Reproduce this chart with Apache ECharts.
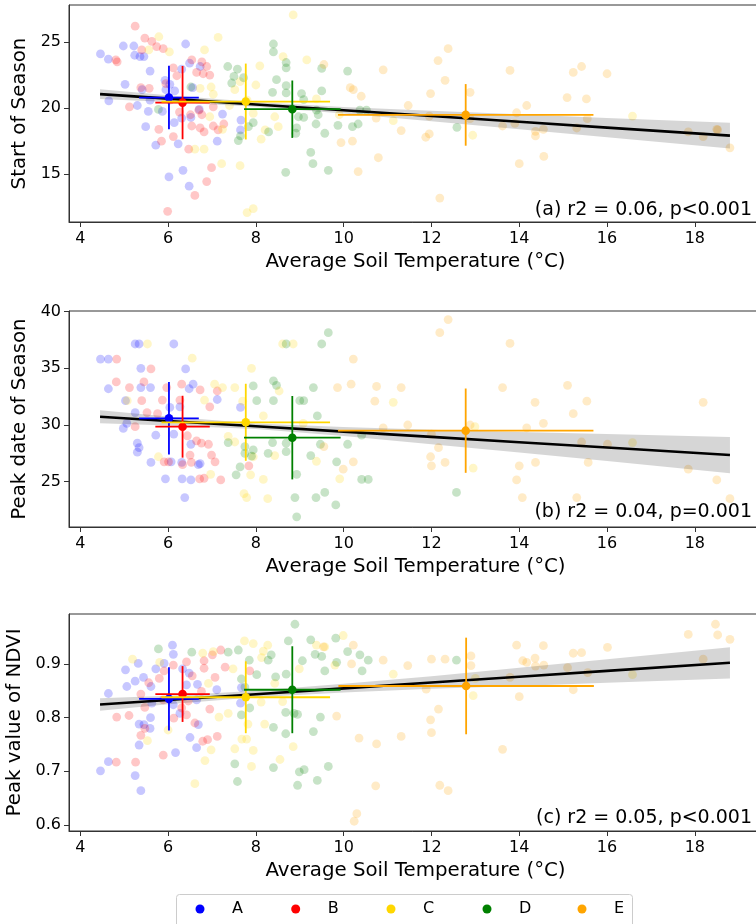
<!DOCTYPE html>
<html>
<head>
<meta charset="utf-8">
<script src="https://cdn.jsdelivr.net/npm/echarts@6/dist/echarts.min.js"></script>
<style>html,body{margin:0;padding:0;background:#fff}#chart{width:756px;height:924px}</style>
</head>
<body>
<div id="chart"></div>
<script>
// ---------- DATA ----------
const groups = ['A', 'B', 'C', 'D', 'E'];
const groupColors = ['#0000ff', '#ff0000', '#ffd700', '#008000', '#ffa500'];
const xTicks = [4, 6, 8, 10, 12, 14, 16, 18];
const yTicks1 = [15, 20, 25];
const yTicks2 = [25, 30, 35, 40];
const yTicks3 = [0.6, 0.7, 0.8, 0.9];
const xTitle = 'Average Soil Temperature (°C)';
const yTitles = ['Start of Season', 'Peak date of Season', 'Peak value of NDVI'];
const notes = ['(a) r2 = 0.06, p<0.001', '(b) r2 = 0.04, p=0.001', '(c) r2 = 0.05, p<0.001'];

// Panel (a): Start of Season
const sosA = [[4.46,24.1],[4.64,23.7],[4.98,24.7],[5.22,24.7],[5.24,24.0],[5.36,23.9],[5.45,23.9],[5.02,21.8],[4.65,20.55],[5.30,20.2],[5.59,22.8],[5.41,21.4],[5.59,20.6],[5.49,18.6],[5.72,17.2],[5.93,22.1],[5.95,21.4],[6.04,21.8],[6.15,21.3],[6.40,24.85],[6.31,22.95],[6.49,23.4],[6.56,21.55],[6.52,19.3],[6.23,17.3],[6.02,14.8],[6.34,15.3],[6.48,14.1],[6.73,23.15],[7.12,17.5],[7.24,19.55],[7.66,19.1],[7.65,18.35],[5.87,19.75],[5.55,19.75],[6.14,18.9],[6.31,19.25],[6.71,19.9]];
const sosB = [[5.25,26.2],[5.47,25.3],[5.63,25.05],[5.74,24.65],[5.89,24.5],[5.40,24.4],[4.81,23.65],[4.84,23.5],[5.12,20.1],[5.38,21.55],[5.57,21.5],[6.12,23.05],[6.20,22.45],[5.95,21.85],[6.54,23.65],[6.77,23.5],[6.88,23.15],[6.95,22.5],[6.65,22.7],[6.80,22.6],[6.12,17.85],[6.47,16.9],[6.54,18.65],[6.73,18.5],[6.82,18.2],[6.77,19.5],[7.03,18.65],[7.14,18.35],[7.27,18.8],[7.03,20.1],[6.70,19.85],[6.51,19.5],[5.85,17.5],[5.79,18.4],[5.99,12.2],[6.61,13.4],[6.88,14.45],[6.99,15.5],[6.26,19.7],[6.04,20.6]];
const sosC = [[5.79,25.4],[6.03,24.25],[5.56,24.4],[7.14,25.35],[6.83,24.4],[8.09,23.2],[8.62,23.9],[8.85,27.05],[6.73,21.5],[6.98,21.6],[7.03,21.05],[6.95,19.35],[7.24,18.4],[7.22,15.8],[6.82,16.9],[6.61,16.9],[7.64,15.65],[7.80,12.1],[7.94,12.4],[8.12,17.65],[7.94,19.6],[8.21,18.35],[8.0,21.75],[7.64,22.0],[7.8,20.6],[7.52,21.4],[8.43,19.35],[8.51,18.6],[9.16,23.65],[9.38,20.7],[9.9,19.5],[7.4,20.2],[11.13,19.05],[12.94,17.95],[16.58,19.4]];
const sosD = [[8.40,24.85],[8.40,24.25],[8.69,23.45],[8.69,23.05],[7.36,23.15],[7.58,22.95],[7.50,22.4],[7.72,22.3],[7.45,21.9],[8.47,22.15],[8.69,21.7],[8.38,21.2],[8.69,21.15],[9.04,21.1],[9.09,20.65],[9.50,23.0],[9.50,21.3],[9.38,19.85],[9.42,19.5],[8.97,19.35],[9.09,19.3],[10.09,22.8],[10.37,19.85],[10.52,19.85],[10.20,18.6],[10.33,18.8],[9.87,18.7],[9.37,18.8],[9.57,18.1],[8.93,18.5],[8.91,18.1],[8.29,18.2],[7.94,18.9],[7.83,18.6],[7.65,17.9],[7.60,17.55],[9.25,16.65],[9.30,15.8],[9.65,15.3],[8.68,15.15],[6.52,21.6],[5.78,19.9],[12.58,18.55]];
const sosE = [[10.90,22.9],[12.15,23.6],[12.38,24.5],[12.31,22.1],[11.98,21.1],[11.47,20.2],[10.74,19.25],[11.31,18.3],[11.87,17.8],[11.95,18.05],[10.79,16.25],[12.19,13.2],[12.88,21.2],[12.88,19.2],[13.79,22.85],[13.94,19.65],[14.17,20.2],[13.62,18.65],[13.9,18.85],[14.37,18.25],[14.37,17.9],[14.55,18.4],[14.0,15.8],[14.56,16.35],[15.09,20.8],[15.23,22.7],[15.42,23.15],[15.53,20.7],[15.55,19.2],[15.31,18.5],[16.0,22.6],[17.85,18.2],[18.19,17.85],[18.5,18.4],[18.52,18.35],[18.8,17.0],[9.55,23.3],[9.94,17.4],[10.15,21.55],[10.22,21.4],[10.4,20.9],[10.2,17.5],[10.33,15.2],[11.95,19.4]];

// Panel (b): Peak date of Season
const pdsA = [[4.46,35.82],[4.64,35.82],[4.64,33.2],[5.25,37.15],[5.34,37.15],[6.13,37.15],[5.38,35.0],[5.38,33.3],[5.6,33.3],[6.4,34.95],[5.03,32.15],[5.25,31.1],[5.06,30.15],[4.98,29.7],[5.3,28.4],[5.34,28.0],[5.3,27.6],[5.61,26.7],[5.94,25.25],[6.07,26.75],[6.13,29.2],[5.72,29.1],[6.32,25.25],[6.52,25.15],[6.38,23.6],[6.52,28.3],[6.57,33.6],[6.48,33.2],[6.73,26.6],[7.12,32.25],[7.65,31.55],[6.69,26.5],[6.31,26.7],[6.27,31.6],[6.04,31.55]];
const pdsB = [[4.83,35.82],[4.82,33.8],[5.12,33.3],[5.45,33.8],[5.61,34.95],[5.4,32.15],[5.76,31.0],[5.87,32.2],[5.97,33.3],[6.27,32.2],[6.31,33.6],[6.73,33.1],[6.95,31.6],[7.12,33.0],[6.65,28.6],[6.76,28.4],[6.92,28.3],[6.44,29.05],[5.91,26.75],[6.01,26.75],[6.33,26.5],[6.5,27.35],[6.53,26.7],[6.99,27.35],[7.07,26.75],[7.2,25.15],[6.72,25.25],[6.82,25.3],[7.84,26.4],[5.25,29.85],[5.52,31.1]];
const pdsC = [[5.53,37.15],[6.55,35.9],[5.07,32.15],[6.83,32.2],[7.06,33.6],[7.24,33.3],[7.52,33.3],[7.9,35.0],[7.7,32.1],[8.17,30.8],[7.37,29.0],[7.52,28.5],[6.97,25.65],[7.88,25.6],[8.17,25.2],[7.73,23.95],[7.79,23.6],[8.27,23.5],[8.61,37.15],[8.85,37.15],[8.53,33.0],[8.43,27.3],[9.38,26.8],[9.91,25.25],[9.08,30.15],[7.94,27.2],[5.78,27.2],[11.13,32.0],[12.95,26.2],[16.58,28.45],[12.99,29.85]];
const pdsD = [[8.69,37.15],[9.5,37.15],[9.65,38.15],[7.94,33.45],[8.4,33.9],[8.47,33.5],[9.31,33.3],[8.02,32.15],[8.4,32.15],[9.0,32.15],[9.09,32.15],[9.4,30.8],[7.37,28.45],[7.75,28.1],[7.75,27.5],[7.94,27.8],[7.9,27.25],[8.28,27.5],[8.38,28.45],[8.69,28.4],[8.69,27.65],[8.93,25.65],[8.89,23.6],[8.93,21.9],[9.37,23.6],[9.57,24.05],[9.82,22.95],[10.09,28.3],[10.41,25.2],[10.56,25.2],[9.25,27.3],[9.47,28.3],[7.55,25.6],[7.64,26.3],[9.84,26.75],[10.41,29.1],[12.57,24.05]];
const pdsE = [[10.22,35.82],[10.17,33.6],[9.86,33.3],[10.75,33.4],[10.71,32.1],[9.55,28.1],[10.22,26.75],[9.99,26.1],[12.38,39.3],[12.19,38.15],[13.79,37.2],[11.31,33.3],[13.62,33.3],[15.1,33.5],[14.36,32.0],[15.54,32.1],[15.23,31.0],[18.19,32.0],[11.46,30.0],[10.9,29.75],[12.0,29.2],[12.16,28.0],[11.98,27.2],[12.0,26.4],[12.31,26.7],[12.88,30.0],[14.17,29.75],[14.55,30.15],[15.42,28.5],[16.01,28.3],[14.0,26.4],[14.37,26.7],[13.94,25.15],[14.07,23.6],[15.31,23.6],[15.57,26.7],[17.85,26.1],[18.5,25.15],[18.8,23.5]];

// Panel (c): Peak value of NDVI
const ndviA = [[4.46,0.701],[4.64,0.718],[4.64,0.845],[5.03,0.889],[5.06,0.858],[5.25,0.868],[5.32,0.901],[5.44,0.875],[5.61,0.858],[5.72,0.891],[5.91,0.901],[6.1,0.935],[6.12,0.918],[6.33,0.891],[6.48,0.883],[6.42,0.861],[6.67,0.862],[6.65,0.833],[6.5,0.763],[6.65,0.744],[6.69,0.787],[6.17,0.735],[5.34,0.788],[5.45,0.787],[5.6,0.8],[5.59,0.78],[5.34,0.749],[5.25,0.692],[5.38,0.664],[7.11,0.852],[7.65,0.827],[7.67,0.856],[6.27,0.808],[6.12,0.824],[5.63,0.827]];
const ndviB = [[4.83,0.801],[4.82,0.717],[5.11,0.804],[5.26,0.717],[5.38,0.767],[5.47,0.819],[5.38,0.844],[5.56,0.865],[5.8,0.873],[5.91,0.887],[6.12,0.898],[6.42,0.904],[6.55,0.878],[6.82,0.906],[7.01,0.917],[6.82,0.892],[7.07,0.875],[7.3,0.894],[7.2,0.926],[6.95,0.816],[6.76,0.849],[6.61,0.79],[6.79,0.756],[6.9,0.759],[7.12,0.765],[5.89,0.73],[6.13,0.799],[6.42,0.805],[5.89,0.833],[6.31,0.818],[7.86,0.887],[5.47,0.78],[6.46,0.831]];
const ndviC = [[5.19,0.909],[5.81,0.903],[6.79,0.92],[7.03,0.923],[7.74,0.943],[7.94,0.938],[8.17,0.924],[8.27,0.935],[7.48,0.891],[8.13,0.912],[8.12,0.829],[7.82,0.788],[8.2,0.788],[7.16,0.801],[7.37,0.808],[7.52,0.742],[7.94,0.739],[7.68,0.76],[7.79,0.76],[6.98,0.74],[6.84,0.72],[5.53,0.757],[6.0,0.777],[6.61,0.677],[7.9,0.709],[8.55,0.722],[8.85,0.746],[8.43,0.864],[8.61,0.83],[8.99,0.891],[9.38,0.935],[9.57,0.932],[9.8,0.898],[6.92,0.864],[9.99,0.953],[11.13,0.881],[12.95,0.841],[16.58,0.88],[13.0,0.873]];
const ndviD = [[5.78,0.928],[6.54,0.922],[7.37,0.922],[7.6,0.926],[7.85,0.907],[8.02,0.88],[8.28,0.907],[8.35,0.917],[8.45,0.876],[8.69,0.881],[8.74,0.943],[8.89,0.974],[9.25,0.945],[9.06,0.906],[9.35,0.918],[9.5,0.914],[9.57,0.887],[9.82,0.948],[9.84,0.903],[10.09,0.923],[10.37,0.917],[10.42,0.887],[10.56,0.907],[7.67,0.872],[7.75,0.857],[7.86,0.818],[7.67,0.805],[8.87,0.808],[8.68,0.81],[8.4,0.782],[8.68,0.77],[8.95,0.806],[9.47,0.801],[9.31,0.774],[7.52,0.714],[7.58,0.681],[8.4,0.707],[8.99,0.699],[9.1,0.703],[8.95,0.674],[9.4,0.683],[9.65,0.709],[12.57,0.907]];
const ndviE = [[10.22,0.935],[10.18,0.9],[9.84,0.803],[10.35,0.762],[10.75,0.751],[10.73,0.673],[10.3,0.621],[10.24,0.607],[9.54,0.932],[10.9,0.907],[11.46,0.897],[12.0,0.909],[12.31,0.909],[12.9,0.915],[12.9,0.897],[11.88,0.853],[12.16,0.816],[11.98,0.796],[12.0,0.772],[11.31,0.765],[12.19,0.674],[12.38,0.664],[13.62,0.741],[13.94,0.935],[14.55,0.934],[14.08,0.906],[14.17,0.903],[14.36,0.911],[14.37,0.896],[14.56,0.898],[13.79,0.875],[14.0,0.839],[15.1,0.893],[15.23,0.92],[15.42,0.921],[15.56,0.884],[15.23,0.852],[16.01,0.931],[17.85,0.955],[18.19,0.909],[18.47,0.974],[18.52,0.954],[18.8,0.946]];

// Group means: [x, y, xStd, yStd] for A..E
const sosMeans  = [[6.02,20.8,0.68,2.4],[6.33,20.42,0.62,2.77],[7.77,20.5,1.92,2.87],[8.83,19.92,1.1,2.17],[12.78,19.49,2.91,2.33]];
const pdsMeans  = [[6.02,30.59,0.68,3.2],[6.33,29.85,0.62,2.73],[7.77,30.24,1.92,3.4],[8.83,28.88,1.1,3.68],[12.78,29.5,2.91,3.72]];
const ndviMeans = [[6.02,0.835,0.68,0.059],[6.33,0.844,0.62,0.052],[7.77,0.838,1.92,0.067],[8.83,0.852,1.1,0.081],[12.79,0.859,2.91,0.09]];

// Regression lines and confidence bands
const fitX = [4.45, 6, 8, 10, 12, 14, 16, 18.8];
const sosFit  = [21.06, 20.72, 20.28, 19.84, 19.41, 18.97, 18.53, 17.92];
const sosLo   = [20.70, 20.47, 20.10, 19.59, 19.01, 18.41, 17.80, 16.95];
const sosHi   = [21.42, 20.97, 20.46, 20.09, 19.81, 19.53, 19.26, 18.89];
const pdsFit  = [30.73, 30.36, 29.89, 29.42, 28.95, 28.48, 28.01, 27.35];
const pdsLo   = [30.15, 29.96, 29.64, 29.02, 28.31, 27.57, 26.82, 25.75];
const pdsHi   = [31.31, 30.76, 30.14, 29.82, 29.59, 29.39, 29.20, 28.95];
const ndviFit = [0.8244, 0.8328, 0.8437, 0.8546, 0.8654, 0.8763, 0.8872, 0.9024];
const ndviLo  = [0.813, 0.825, 0.838, 0.847, 0.854, 0.859, 0.865, 0.873];
const ndviHi  = [0.836, 0.841, 0.850, 0.863, 0.877, 0.893, 0.909, 0.931];

// ---------- BUILD ----------
const FONT = 'DejaVu Sans';
const panels = [
  {pts:[sosA,sosB,sosC,sosD,sosE], means:sosMeans, fit:sosFit, lo:sosLo, hi:sosHi, yMin:11.39, yMax:27.80, yTicks:yTicks1, nameGap:31},
  {pts:[pdsA,pdsB,pdsC,pdsD,pdsE], means:pdsMeans, fit:pdsFit, lo:pdsLo, hi:pdsHi, yMin:21.0, yMax:40.06, yTicks:yTicks2, nameGap:31},
  {pts:[ndviA,ndviB,ndviC,ndviD,ndviE], means:ndviMeans, fit:ndviFit, lo:ndviLo, hi:ndviHi, yMin:0.5888, yMax:0.9931, yTicks:yTicks3, nameGap:38}
];
const gridPos = [{top:5,height:217},{top:311,height:216},{top:614,height:217}];
const notePos = [210, 512, 818];
const legendLeft = [195.5, 291.2, 386.5, 482.5, 577.5];

const grids = gridPos.map(g => ({left:69, width:693, top:g.top, height:g.height, containLabel:false, outerBoundsMode:'none', show:true, borderColor:'#333', borderWidth:1, backgroundColor:'transparent'}));
const xAxes = panels.map((p,i) => ({
  type:'value', gridIndex:i, min:3.743, max:19.53,
  axisLine:{show:true, onZero:false, lineStyle:{color:'#333', width:1}},
  axisTick:{show:true, length:5, customValues:xTicks, lineStyle:{color:'#333'}},
  axisLabel:{customValues:xTicks, fontSize:16, color:'#000', margin:9, fontFamily:FONT},
  splitLine:{show:false},
  name:xTitle, nameLocation:'middle', nameGap:30,
  nameTextStyle:{fontSize:19.8, color:'#000', fontFamily:FONT}
}));
const yAxes = panels.map((p,i) => ({
  type:'value', gridIndex:i, min:p.yMin, max:p.yMax,
  axisLine:{show:true, onZero:false, lineStyle:{color:'#333', width:1}},
  axisTick:{show:true, length:5, customValues:p.yTicks, lineStyle:{color:'#333'}},
  axisLabel:{customValues:p.yTicks, fontSize:16, color:'#000', margin:8, fontFamily:FONT},
  splitLine:{show:false},
  name:yTitles[i], nameLocation:'middle', nameGap:p.nameGap, nameRotate:90,
  nameTextStyle:{fontSize:19.8, color:'#000', fontFamily:FONT}
}));

const series = [];
panels.forEach((p, pi) => {
  p.pts.forEach((pts, gi) => {
    series.push({
      type:'scatter', name:groups[gi], xAxisIndex:pi, yAxisIndex:pi, data:pts,
      symbol:'circle', symbolSize:8.8, z:2, silent:true,
      itemStyle:{color:groupColors[gi], opacity:0.22}
    });
  });
  // confidence band
  const band = fitX.map((x,k) => [x, p.lo[k], p.hi[k]]);
  series.push({
    type:'custom', xAxisIndex:pi, yAxisIndex:pi, z:3, silent:true,
    data: band, encode:{x:0, y:[1,2]},
    renderItem: (params, api) => {
      if (params.dataIndex !== 0) return null;
      const upper = band.map(b => api.coord([b[0], b[2]]));
      const lower = band.map(b => api.coord([b[0], b[1]])).reverse();
      return {type:'polygon', shape:{points: upper.concat(lower)}, style:{fill:'rgba(0,0,0,0.16)'}};
    }
  });
  // regression line
  series.push({
    type:'line', xAxisIndex:pi, yAxisIndex:pi, z:4, silent:true, symbol:'none',
    data: fitX.map((x,k) => [x, p.fit[k]]),
    lineStyle:{color:'#000', width:2.6}
  });
  // group means with error bars
  series.push({
    type:'custom', xAxisIndex:pi, yAxisIndex:pi, z:5, silent:true,
    data: p.means.map((m,gi) => [m[0], m[1], m[2], m[3], gi]),
    encode:{x:0, y:1},
    renderItem: (params, api) => {
      const x = api.value(0), y = api.value(1), ex = api.value(2), ey = api.value(3);
      const c = groupColors[api.value(4)];
      const c0 = api.coord([x, y]);
      const l = api.coord([x-ex, y]), r = api.coord([x+ex, y]);
      const t = api.coord([x, y+ey]), b = api.coord([x, y-ey]);
      return {type:'group', children:[
        {type:'line', shape:{x1:l[0], y1:l[1], x2:r[0], y2:r[1]}, style:{stroke:c, lineWidth:1.8}},
        {type:'line', shape:{x1:t[0], y1:t[1], x2:b[0], y2:b[1]}, style:{stroke:c, lineWidth:1.8}},
        {type:'circle', shape:{cx:c0[0], cy:c0[1], r:4.3}, style:{fill:c}}
      ]};
    }
  });
});

const graphics = notes.map((t,i) => ({
  type:'text', x:752, y:notePos[i], z:20,
  style:{text:t, fontSize:19, fontFamily:FONT, fill:'#000', align:'right', verticalAlign:'middle'}
}));
graphics.push({type:'rect', z:0, shape:{x:176.5, y:894.5, width:456, height:40, r:3}, style:{fill:'#fff', stroke:'#cccccc', lineWidth:1}});

const legends = groups.map((g,i) => ({
  z:10, left:legendLeft[i], top:901, itemWidth:54, itemHeight:9, icon:'circle',
  selectedMode:false, padding:0,
  textStyle:{fontSize:16, fontFamily:FONT, color:'#000'},
  data:[{name:g, icon:'circle', itemStyle:{color:groupColors[i], opacity:1}}]
}));

const chart = echarts.init(document.getElementById('chart'), null, {renderer:'canvas'});
chart.setOption({
  animation:false,
  backgroundColor:'#fff',
  textStyle:{fontFamily:FONT},
  grid:grids, xAxis:xAxes, yAxis:yAxes, series:series,
  graphic:graphics,
  legend:legends
});
</script>
</body>
</html>
